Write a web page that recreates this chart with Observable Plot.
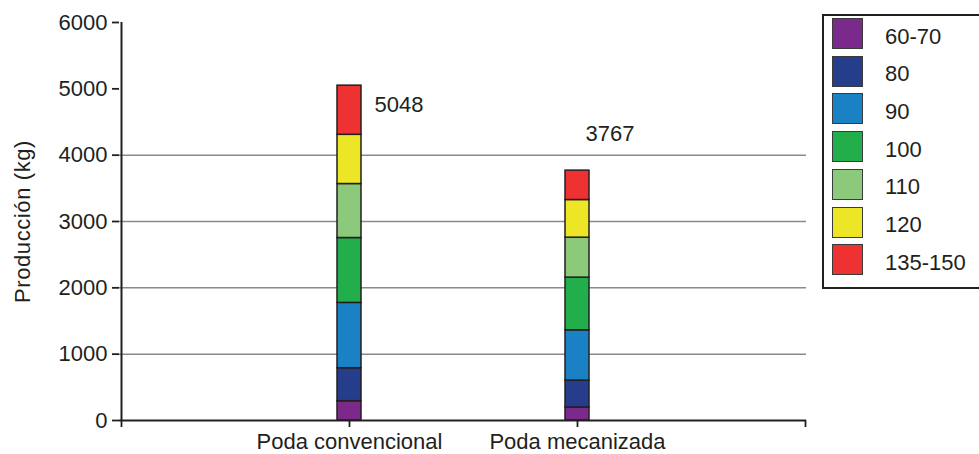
<!DOCTYPE html>
<html>
<head>
<meta charset="utf-8">
<script src="https://cdn.jsdelivr.net/npm/d3@7"></script>
<script src="https://cdn.jsdelivr.net/npm/@observablehq/plot@0.6"></script>
<style>
  html, body { margin: 0; padding: 0; background: #fff; }
  #wrap { position: relative; width: 979px; height: 454px; overflow: hidden; font-family: "Liberation Sans", Arial, sans-serif; }
  #legend { position: absolute; left: 822px; top: 14px; width: 170px; height: 271px; border: 2px solid #231f20; border-right: none; background: #fff; }
  .row { position: absolute; left: 8px; height: 31px; display: flex; align-items: center; }
  .sw { width: 29px; height: 29px; border: 1.5px solid #3a3a3a; }
  .lab { margin-left: 22px; font-size: 22px; color: #231f20; position: relative; top: 3px; }
  .ylab text { letter-spacing: 0.6px; }
</style>
</head>
<body>
<div id="wrap"><div id="chart"></div><div id="legend"></div></div>
<script>
const categories = ["Poda convencional", "Poda mecanizada"];
const sizes = ["60-70", "80", "90", "100", "110", "120", "135-150"];
const convencional = [291, 497, 985, 978, 814, 742, 741];
const mecanizada = [196, 406, 758, 794, 602, 568, 443];
const colors = ["#7b2a8c", "#253d8a", "#1a82c4", "#22ae4b", "#8cc97a", "#ede627", "#ee3131"];
const yTicks = [0, 1000, 2000, 3000, 4000, 5000, 6000];
const gridValues = [1000, 2000, 3000, 4000];
const yLabel = "Producción (kg)";

const series = [convencional, mecanizada];
const data = [];
categories.forEach((c, i) => sizes.forEach((s, j) => data.push({cat: c, size: s, value: series[i][j]})));
const totals = categories.map((c, i) => ({cat: c, total: d3.sum(series[i])}));
const xDomain = ["__start", ...categories, "__end"];

const W = 979, H = 454, mL = 119, mR = 173, mT = 22, mB = 34;
const step = (W - mL - mR) / (xDomain.length - 1);
const barWidth = 24;

const ink = "#231f20";
const chart = Plot.plot({
  width: W,
  height: H,
  marginLeft: mL,
  marginRight: mR,
  marginTop: mT,
  marginBottom: mB,
  style: {fontFamily: "'Liberation Sans', Arial, sans-serif", fontSize: "22px", color: ink, background: "transparent"},
  x: {type: "band", domain: xDomain, range: [mL - barWidth / 2, W - mR + barWidth / 2], paddingInner: 1 - barWidth / step, paddingOuter: 0, align: 0.5},
  y: {domain: [0, 6000]},
  color: {domain: sizes, range: colors},
  marks: [
    Plot.ruleY(gridValues, {stroke: "#8a8a8a", strokeWidth: 1.5}),
    Plot.barY(data, Plot.stackY({x: "cat", y: "value", fill: "size", stroke: ink, strokeWidth: 1.5})),
    Plot.ruleX([xDomain[0]], {stroke: ink, strokeWidth: 2}),
    Plot.ruleY([0], {stroke: ink, strokeWidth: 2}),
    Plot.axisY({ticks: yTicks, tickSize: 7, tickPadding: 5, tickFormat: d => String(d), fontSize: 22, stroke: ink, strokeWidth: 1.8, label: null}),
    Plot.axisX({tickSize: 7, tickPadding: 6, fontSize: 22, stroke: ink, strokeWidth: 1.8,
      tickFormat: d => categories.includes(d) ? d : "", label: null}),
    Plot.text([yLabel], {frameAnchor: "left", text: d => d, rotate: -90, textAnchor: "middle", lineAnchor: "middle", dx: -97, dy: 0, fontSize: 22, fill: ink, className: "ylab"}),
    Plot.text(totals.filter(d => d.cat === categories[0]), {x: "cat", y: "total", text: d => String(d.total), textAnchor: "start", dx: 25, dy: 19, fontSize: 22, fill: ink}),
    Plot.text(totals.filter(d => d.cat === categories[1]), {x: "cat", y: "total", text: d => String(d.total), textAnchor: "start", dx: 8, dy: -37, fontSize: 22, fill: ink})
  ]
});
document.getElementById("chart").appendChild(chart);

const legend = document.getElementById("legend");
sizes.forEach((s, j) => {
  const row = document.createElement("div");
  row.className = "row";
  row.style.top = (2 + j * 37.7) + "px";
  const sw = document.createElement("div");
  sw.className = "sw";
  sw.style.background = colors[j];
  const lab = document.createElement("span");
  lab.className = "lab";
  lab.textContent = s;
  row.appendChild(sw);
  row.appendChild(lab);
  legend.appendChild(row);
});
</script>
</body>
</html>
